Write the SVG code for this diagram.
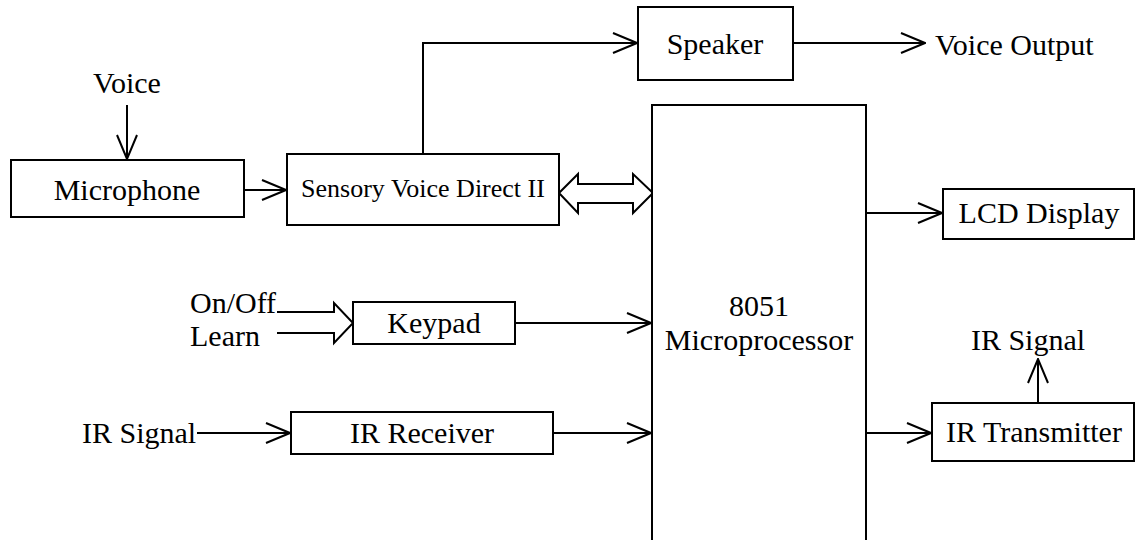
<svg xmlns="http://www.w3.org/2000/svg" width="1135" height="540" viewBox="0 0 1135 540">
  <style>
    .box { fill: #fff; stroke: #000; stroke-width: 2; }
    .wire { fill: none; stroke: #000; stroke-width: 2; }
    .lbl { font-family: 'Liberation Serif', serif; font-size: 30px; fill: #000; }
    .mid { text-anchor: middle; }
    .small { font-size: 26px; }
  </style>
  <defs>
    <marker id="vhead" viewBox="0 0 26 22" refX="25" refY="11" markerWidth="26" markerHeight="22" markerUnits="userSpaceOnUse" orient="auto">
      <path d="M1,1 L25,11 L1,21" fill="none" stroke="#000" stroke-width="2"/>
    </marker>
  </defs>
  <rect width="1135" height="540" fill="#fff"/>

  <!-- connectors -->
  <g id="connectors">
    <path class="wire" d="M127,105 V159" marker-end="url(#vhead)"/>
    <path class="wire" d="M244,190 H286" marker-end="url(#vhead)"/>
    <path class="wire" d="M423,154 V43 H637" marker-end="url(#vhead)"/>
    <path class="wire" d="M793,43 H925" marker-end="url(#vhead)"/>
    <!-- bidirectional bus -->
    <polygon class="wire" points="559,193 578,174 578,184 633,184 633,174 653,193 633,213 633,203 578,203 578,213"/>
    <!-- On/Off and Learn fat arrow -->
    <path class="wire" d="M277,312 H334 V303 L353,323 L334,343 V333 H277"/>
    <path class="wire" d="M515,323 H651" marker-end="url(#vhead)"/>
    <path class="wire" d="M197,433 H290" marker-end="url(#vhead)"/>
    <path class="wire" d="M553,433 H651" marker-end="url(#vhead)"/>
    <path class="wire" d="M866,213 H942" marker-end="url(#vhead)"/>
    <path class="wire" d="M866,433 H931" marker-end="url(#vhead)"/>
    <path class="wire" d="M1038,403 V359" marker-end="url(#vhead)"/>
  </g>

  <!-- free labels -->
  <g font-family="Liberation Serif, serif">
    <text class="lbl mid" x="127" y="93">Voice</text>
    <text class="lbl" x="935" y="55">Voice Output</text>
    <text class="lbl" x="190" y="313">On/Off</text>
    <text class="lbl" x="190" y="346">Learn</text>
    <text class="lbl" x="82" y="443">IR Signal</text>
    <text class="lbl mid" x="1028" y="350">IR Signal</text>
  </g>

  <g id="microphone" font-family="Liberation Serif, serif">
    <rect class="box" x="11" y="160" width="233" height="57"/>
    <text class="lbl mid" x="127" y="200">Microphone</text>
  </g>
  <g id="sensory" font-family="Liberation Serif, serif">
    <rect class="box" x="287" y="154" width="272" height="71"/>
    <text class="lbl mid small" x="423" y="197">Sensory Voice Direct II</text>
  </g>
  <g id="speaker" font-family="Liberation Serif, serif">
    <rect class="box" x="638" y="7" width="155" height="73"/>
    <text class="lbl mid" x="715" y="54">Speaker</text>
  </g>
  <g id="processor" font-family="Liberation Serif, serif">
    <rect class="box" x="652" y="105" width="214" height="445"/>
    <text class="lbl mid" x="759" y="316">8051</text>
    <text class="lbl mid" x="759" y="350">Microprocessor</text>
  </g>
  <g id="keypad" font-family="Liberation Serif, serif">
    <rect class="box" x="353" y="302" width="162" height="42"/>
    <text class="lbl mid" x="434" y="333">Keypad</text>
  </g>
  <g id="ir-receiver" font-family="Liberation Serif, serif">
    <rect class="box" x="291" y="412" width="262" height="42"/>
    <text class="lbl mid" x="422" y="443">IR Receiver</text>
  </g>
  <g id="lcd" font-family="Liberation Serif, serif">
    <rect class="box" x="943" y="189" width="191" height="50"/>
    <text class="lbl mid" x="1039" y="223">LCD Display</text>
  </g>
  <g id="ir-transmitter" font-family="Liberation Serif, serif">
    <rect class="box" x="932" y="403" width="202" height="58"/>
    <text class="lbl mid" x="1034" y="442">IR Transmitter</text>
  </g>
</svg>
